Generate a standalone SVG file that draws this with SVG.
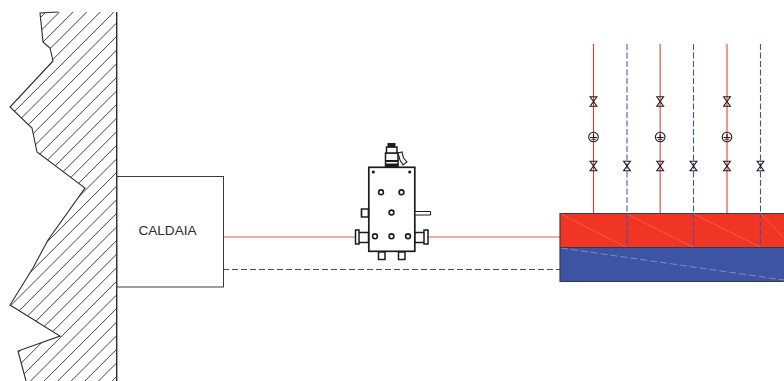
<svg xmlns="http://www.w3.org/2000/svg" width="784" height="381" viewBox="0 0 784 381">
<style>
.k{fill:none;stroke:#2c2c2e;stroke-width:1.1}
.h{fill:none;stroke:#38383a;stroke-width:.95}
.r{fill:none;stroke:#e8392c;stroke-width:1.1}
.b{fill:none;stroke:#3d54a4;stroke-width:1.1;stroke-dasharray:6 2.5}
.d{fill:none;stroke:#4a4d60;stroke-width:1;stroke-dasharray:6 3}
.p{fill:#fff;stroke:#1c1c1e;stroke-width:1.5}
.ring{fill:none;stroke:#1c1c1e;stroke-width:1.6}
.v{fill:none;stroke:#1c1c1e;stroke-width:1.1}
</style>
<defs>
<clipPath id="wc"><polygon points="40,13 58,12 117,12 117,381 26,381 18,351 60,336 10,305 33,268 48,240 85,188 37,152 32,128 10,107 53,61 50,48 43,42"/></clipPath>
<g id="valve"><path class="v" d="M-3.4,-4.8H3.4L-3.4,4.8H3.4Z"/></g>
<g id="gauge"><circle class="v" r="4.8"/><path class="v" d="M-3.5,0.5H3.5M0,-3V0.5M-2.2,2.2H2.2"/></g>
</defs>
<g id="wall">
<path class="h" clip-path="url(#wc)" d="M0,57.9L117,-59.1M0,71.5L117,-45.5M0,85.1L117,-31.9M0,98.7L117,-18.3M0,112.3L117,-4.7M0,125.9L117,8.9M0,139.5L117,22.5M0,153.1L117,36.1M0,166.7L117,49.7M0,180.3L117,63.3M0,193.9L117,76.9M0,207.5L117,90.5M0,221.1L117,104.1M0,234.7L117,117.7M0,248.3L117,131.3M0,261.9L117,144.9M0,275.5L117,158.5M0,289.1L117,172.1M0,302.7L117,185.7M0,316.3L117,199.3M0,329.9L117,212.9M0,343.5L117,226.5M0,357.1L117,240.1M0,370.7L117,253.7M0,384.3L117,267.3M0,397.9L117,280.9M0,411.5L117,294.5M0,425.1L117,308.1M0,438.7L117,321.7M0,452.3L117,335.3M0,465.9L117,348.9M0,479.5L117,362.5M0,493.1L117,376.1"/>
<path class="k" d="M58,12L40,13L43,42L50,48L53,61L10,107L32,128L37,152L85,188L48,240L33,268L10,305L60,336L18,351L26,381"/>
<path class="k" style="stroke-width:1.4" d="M116.7,12V381"/>
</g>
<g id="connectors">
<path class="r" style="stroke:#ee5a4a" d="M223,237H355M428,237H560"/>
<path class="d" d="M223,269.5H560"/>
<path class="r" d="M593.5,44V213"/>
<path class="r" style="stroke:#f0695c;stroke-width:1.4" d="M660.2,44V213M727,44V213"/>
<path class="b" style="stroke:#6478bc;stroke-width:1.3" d="M627,44V247"/>
<path class="b" d="M693.5,44V247M760.5,44V247"/>
</g>
<g id="valves">
<use href="#valve" x="593.5" y="101.5"/><use href="#valve" x="660.2" y="101.5"/><use href="#valve" x="727" y="101.5"/>
<use href="#gauge" x="593.5" y="137"/><use href="#gauge" x="660.2" y="137"/><use href="#gauge" x="727" y="137"/>
<use href="#valve" x="593.5" y="166"/><use href="#valve" x="627" y="166"/><use href="#valve" x="660.2" y="166"/><use href="#valve" x="693.5" y="166"/><use href="#valve" x="727" y="166"/><use href="#valve" x="760.5" y="166"/>
</g>
<g id="caldaia">
<rect x="117" y="176.5" width="106.5" height="110.5" fill="#fff" stroke="#3a3a3c"/>
<text x="167.5" y="235" font-family="'Liberation Sans',Arial,sans-serif" font-size="13.6" text-anchor="middle" fill="#2c2c2e">CALDAIA</text>
</g>
<g id="collettore">
<rect x="560" y="213.5" width="224" height="34" fill="#f03524"/>
<rect x="560" y="247.5" width="224" height="34" fill="#3d54a4"/>
<path fill="none" stroke="#f58a70" stroke-width=".7" stroke-dasharray="2 1" d="M561,214L626,247M627,214L693,247M694,214L760,247M761,214L784,238"/>
<path fill="none" stroke="#8c9ad0" stroke-width=".8" stroke-dasharray="7 3" d="M561,248L784,280"/>
<path fill="none" stroke="#3a3a3c" stroke-width="1.2" d="M784,213.5H560V281.5H784M560,247.5H784"/>
<path class="b" d="M627,213V247M693.5,213V247M760.5,213V247"/>
</g>
<g id="gruppo">
<rect class="p" x="368.8" y="167.3" width="46" height="84" style="stroke-width:1.7"/>
<path class="p" fill-rule="evenodd" d="M361.5,209H368.5V217H361.5Z" style="stroke-width:1.7"/>
<path class="p" style="stroke-width:1" d="M415,211.5H430.5V215H415Z"/>
<path class="p" d="M359,232.5H368.5V242.5H359ZM355.5,230H359V244H355.5Z"/>
<path class="p" d="M415,232.5H424V242.5H415ZM424,230H428V244H424Z"/>
<path class="p" d="M378.5,252V259.5H385V252ZM398.5,252V259.5H405V252Z"/>
<path class="p" d="M385.5,166.5V153H398V166.5Z"/>
<path class="p" d="M386.5,153V147H397V153Z"/>
<path fill="#1c1c1e" d="M385,160H398.5V162H385ZM385,163.5H398.5V166.5H385ZM387.5,143H395.5V147.5H387.5Z"/>
<path class="p" style="stroke-width:1.1" d="M398,153L402,152L403.5,158L407,162L403,165L400,160Z"/>
<circle cx="373.3" cy="172" r="1.6" fill="#1c1c1e"/><circle cx="409.7" cy="172" r="1.6" fill="#1c1c1e"/>
<circle class="ring" cx="381" cy="192.3" r="2.4"/><circle class="ring" cx="401.5" cy="192.3" r="2.4"/><circle class="ring" cx="391.5" cy="212.5" r="2.4"/>
<circle class="ring" cx="375" cy="236.3" r="2.4"/><circle class="ring" cx="391.5" cy="236.3" r="2.4"/><circle class="ring" cx="408" cy="236.3" r="2.4"/>
</g>
</svg>
